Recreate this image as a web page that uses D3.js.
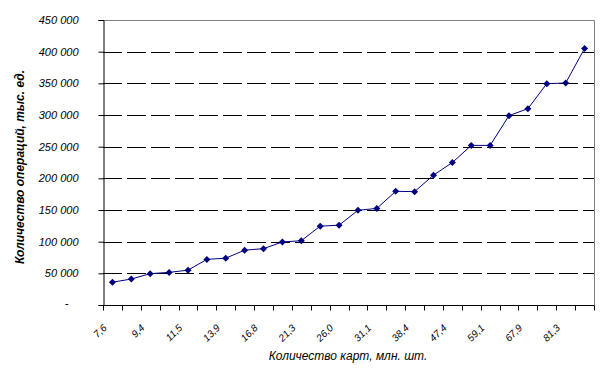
<!DOCTYPE html>
<html>
<head>
<meta charset="utf-8">
<script src="https://cdn.jsdelivr.net/npm/d3@7"></script>
<style>
  body { margin: 0; background: #fff; }
  svg text { font-family: "Liberation Sans", Arial, sans-serif; }
</style>
</head>
<body>
<svg id="chart" width="605" height="376"></svg>
<script>
// Operations, thousand units (one point per category)
const operations = [
  36000, 41000, 49500, 51500, 55000, 72000, 74000, 86500, 89000, 99500,
  101500, 124500, 126000, 149500, 152500, 179500, 179000, 205000, 225000, 252000,
  252000, 299000, 310000, 349500, 350500, 405000
];

// Labels shown on the x axis (every second category)
const cardLabels = ["7,6", "9,4", "11,5", "13,9", "16,8", "21,3", "26,0",
  "31,1", "38,4", "47,4", "59,1", "67,9", "81,3"];

const yTicks = [0, 50000, 100000, 150000, 200000, 250000, 300000, 350000, 400000, 450000];

const svg = d3.select("#chart");
const mLeft = 103, mRight = 594, mTop = 20, mBottom = 305;

const x = d3.scaleBand()
  .domain(d3.range(operations.length))
  .range([mLeft, mRight]);

const y = d3.scaleLinear()
  .domain([0, 450000])
  .range([mBottom, mTop]);

const fmt = v => v === 0 ? "-" : d3.format(",")(v).replace(/,/g, " ");

// Grid lines
svg.append("g")
  .selectAll("line")
  .data(yTicks.filter(v => v > 0 && v < 450000))
  .enter()
  .append("line")
  .attr("x1", mLeft)
  .attr("x2", mRight)
  .attr("y1", d => Math.round(y(d)) + 0.5)
  .attr("y2", d => Math.round(y(d)) + 0.5)
  .attr("stroke", "#000")
  .attr("stroke-dasharray", "19,5");

// Plot border (top and right)
svg.append("path")
  .attr("d", `M${mLeft},${mTop + 0.5}H${mRight + 0.5}V${mBottom}`)
  .attr("fill", "none")
  .attr("stroke", "#808080");

// Y axis
const yAxis = svg.append("g")
  .attr("transform", `translate(${mLeft + 0.5},0)`)
  .call(d3.axisLeft(y).tickValues(yTicks).tickSize(5).tickPadding(20).tickFormat(fmt));
yAxis.select(".domain").attr("stroke", "#000");
yAxis.selectAll("line").attr("stroke", "#000");
yAxis.selectAll("text")
  .style("font-size", "11px")
  .style("font-style", "italic")
  .attr("fill", "#000");
yAxis.selectAll(".tick")
  .filter(d => d === 0)
  .select("text")
  .attr("x", -35)
  .attr("dy", "0.1em");

// X axis
const xAxis = svg.append("g")
  .attr("transform", `translate(0,${mBottom + 0.5})`);
xAxis.append("line")
  .attr("x1", mLeft)
  .attr("x2", mRight + 0.5)
  .attr("stroke", "#000");
xAxis.selectAll("line.tick")
  .data(d3.range(operations.length + 1))
  .enter()
  .append("line")
  .attr("class", "tick")
  .attr("x1", i => Math.round(mLeft + i * x.step()) + 0.5)
  .attr("x2", i => Math.round(mLeft + i * x.step()) + 0.5)
  .attr("y1", 0)
  .attr("y2", 5)
  .attr("stroke", "#000");
xAxis.selectAll("text")
  .data(cardLabels)
  .enter()
  .append("text")
  .attr("transform", (d, i) => `translate(${x(i * 2) + x.bandwidth() / 2 - 5},${23}) rotate(-45)`)
  .attr("text-anchor", "end")
  .style("font-size", "10px")
  .style("font-style", "italic")
  .text(d => d);

// Line and markers
const line = d3.line()
  .x((d, i) => x(i) + x.bandwidth() / 2)
  .y(d => y(d));

svg.append("path")
  .datum(operations)
  .attr("d", line)
  .attr("fill", "none")
  .attr("stroke", "#000080")
  .attr("stroke-width", 1);

svg.append("g")
  .selectAll("path")
  .data(operations)
  .enter()
  .append("path")
  .attr("transform", (d, i) => `translate(${x(i) + x.bandwidth() / 2},${y(d)})`)
  .attr("d", "M0,-3.5L3.5,0L0,3.5L-3.5,0Z")
  .attr("fill", "#000080");

// Axis titles
svg.append("text")
  .attr("transform", "translate(24,167) rotate(-90)")
  .attr("text-anchor", "middle")
  .style("font-size", "12px")
  .style("font-style", "italic")
  .style("font-weight", "bold")
  .text("Количество операций, тыс. ед.");

svg.append("text")
  .attr("x", 348)
  .attr("y", 360)
  .attr("text-anchor", "middle")
  .style("font-size", "12px")
  .style("font-style", "italic")
  .text("Количество карт, млн. шт.");
</script>
</body>
</html>
